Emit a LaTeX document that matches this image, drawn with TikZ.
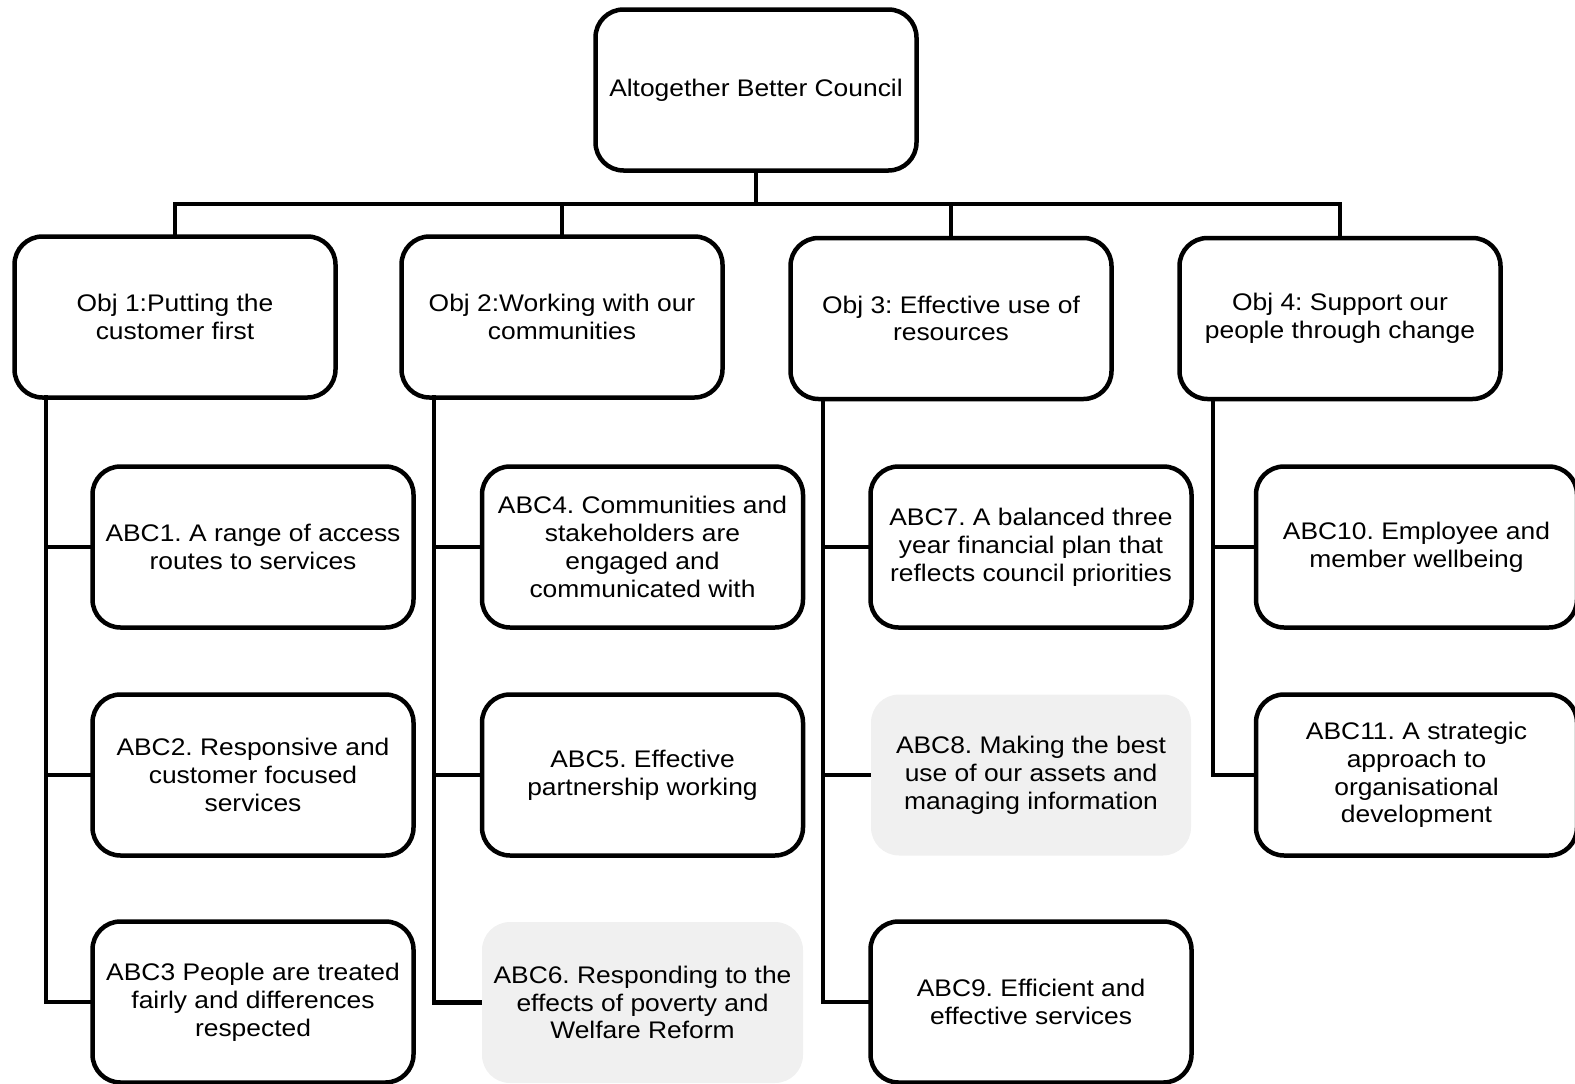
\documentclass[tikz,border=0pt]{standalone}
\usepackage{fontspec}
\setmainfont{Liberation Sans}[FakeStretch=1.1]
\begin{document}
\frenchspacing
\begin{tikzpicture}[x=1pt,y=-1pt,
  box/.style={draw=black, line width=4.5pt, rounded corners=28pt, fill=white,
    minimum width=321pt, minimum height=161pt, align=center, inner sep=0pt,
    font=\fontsize{24}{27.8}\selectfont},
  greybox/.style={box, draw=none, fill=black!6},
  conn/.style={line width=4.2pt, line cap=rect, line join=miter}]
\useasboundingbox (0,0) rectangle (1575,1084);

% top
\node[box] (top) at (756,90) {Altogether Better Council};

% objectives
\node[box] (o1) at (175,317) {Obj 1:Putting the\\customer first};
\node[box] (o2) at (562,317) {Obj 2:Working with our\\communities};
\node[box] (o3) at (951,318.5) {Obj 3: Effective use of\\resources};
\node[box] (o4) at (1340,318.5) {Obj 4: Support our\\people through change};

% children
\node[box] (a1) at (253,547) {ABC1. A range of access\\routes to services};
\node[box] (a2) at (253,775) {ABC2. Responsive and\\customer focused\\services};
\node[box] (a3) at (253,1002) {ABC3 People are treated\\fairly and differences\\respected};

\node[box] (a4) at (642.5,547) {ABC4. Communities and\\stakeholders are\\engaged and\\communicated with};
\node[box] (a5) at (642.5,775) {ABC5. Effective\\partnership working};
\node[greybox] (a6) at (642.5,1002.5) {ABC6. Responding to the\\effects of poverty and\\Welfare Reform};

\node[box] (a7) at (1031,547) {ABC7. A balanced three\\year financial plan that\\reflects council priorities};
\node[greybox, minimum width=320pt] (a8) at (1031,775) {ABC8. Making the best\\use of our assets and\\managing information};
\node[box] (a9) at (1031,1002) {ABC9. Efficient and\\effective services};

\node[box] (a10) at (1416.5,547) {ABC10. Employee and\\member wellbeing};
\node[box] (a11) at (1416.5,775) {ABC11. A strategic\\approach to\\organisational\\development};

% bus
\coordinate (bus) at (756,204);
\foreach \o in {o1,o2,o3,o4}
  \draw[conn] (\o.north) |- (bus) -- (top.south);

% spines
\coordinate (s1) at (46,397);
\coordinate (s2) at (434,397);
\coordinate (s3) at (823,399);
\coordinate (s4) at (1213,399);

\draw[conn] (s1) |- (a3.west);
\draw[conn] (a1.west) -- (a1.west -| s1);
\draw[conn] (a2.west) -- (a2.west -| s1);

\draw[conn] (s2) |- (a6.west);
\draw[conn] (a4.west) -- (a4.west -| s2);
\draw[conn] (a5.west) -- (a5.west -| s2);

\draw[conn] (s3) |- (a9.west);
\draw[conn] (a7.west) -- (a7.west -| s3);
\draw[conn] (a8.west) -- (a8.west -| s3);

\draw[conn] (s4) |- (a11.west);
\draw[conn] (a10.west) -- (a10.west -| s4);
\end{tikzpicture}
\end{document}
